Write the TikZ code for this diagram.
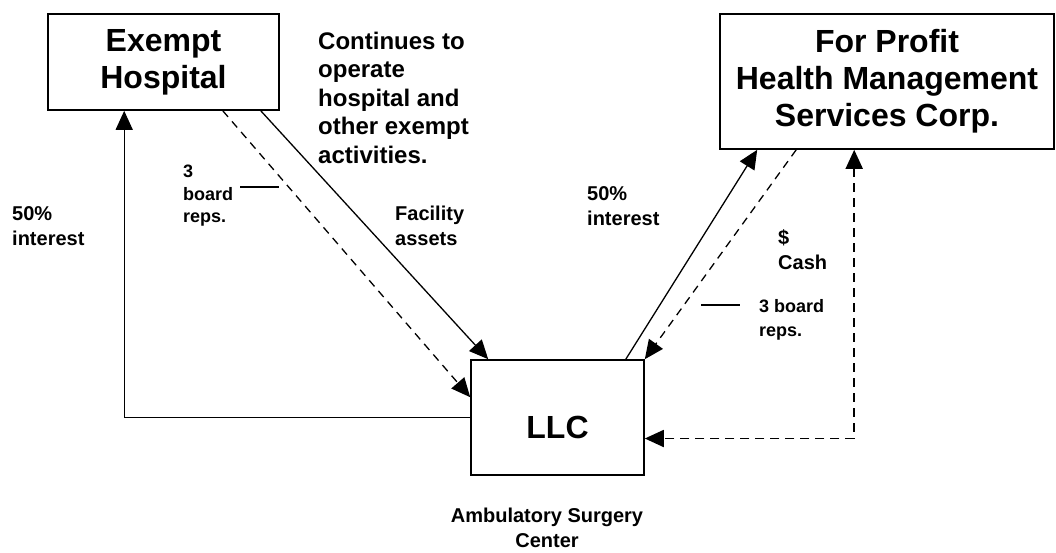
\documentclass[tikz,border=0pt]{standalone}
\usepackage{fontspec}
\setmainfont{Liberation Sans}
\usetikzlibrary{arrows.meta,positioning}
\tikzset{>={Triangle[length=19pt,width=17pt]}}
\tikzset{
  entity/.style={draw,line width=1.6pt,inner sep=0pt,align=center,
    font=\bfseries\fontsize{32}{37}\selectfont},
  note/.style={inner sep=0pt,align=left,anchor=west,
    font=\bfseries\fontsize{20}{25}\selectfont},
  small/.style={note,font=\bfseries\fontsize{18}{24}\selectfont},
  flow/.style={line width=1.3pt},
  flowdash/.style={line width=1.3pt,dash pattern=on 8pt off 6pt},
  cashdash/.style={line width=1.8pt,dash pattern=on 9pt off 6pt}
}

\begin{document}
\begin{tikzpicture}[x=1pt,y=-1pt]
        \useasboundingbox (0,0) rectangle (1056,552);
        % the three parties
        \node[entity,minimum width=231pt,minimum height=96pt] (hosp) at (163.5,62) {Exempt\\Hospital};
        \node[entity,minimum width=334pt,minimum height=135pt] (corp) at (887,81.5) {For Profit\\Health Management\\Services Corp.};
        \node[entity,minimum width=173pt,minimum height=115pt,text height=43pt] (llc) at (557.5,417.5) {LLC};
        % flows
        \draw[flow,->] (llc.west) -| ([xshift=77pt]hosp.south west);
        \draw[flow,->] ([xshift=-19pt]hosp.south east) -- ([xshift=18pt]llc.north west);
        \draw[flowdash,->] ([xshift=-57pt]hosp.south east) -- ([yshift=-38pt]llc.north west);
        \draw[flow,->] ([xshift=-19pt]llc.north east) -- ([xshift=38pt]corp.south west);
        \draw[flowdash,->] ([xshift=77pt]corp.south west) -- (llc.north east);
        \draw[cashdash,<->] ([xshift=135pt]corp.south west) |- ([yshift=-21pt]llc.east);
        \draw[flow] (240,187) -- (279,187);
        \draw[flow] (701,305) -- (740,305);
        % labels
        \node[note] (share1) at (12,226) {50\%\\interest};
        \node[small,font=\bfseries\fontsize{18}{22.5}\selectfont] (reps1) at (183,196) {3\\board\\reps.};
        \node[note] (assets) at (395,226) {Facility\\assets};
        \node[note,font=\bfseries\fontsize{24}{28.5}\selectfont] (cont) at (318,97.5) {Continues to\\operate\\hospital and\\other exempt\\activities.};
        \node[note] (share2) at (587,206) {50\%\\interest};
        \node[note] (cash) at (778,250) {\$\\Cash};
        \node[small] (reps2) at (759,320) {3 board\\reps.};
        \node[note,anchor=center,align=center] (asc) at (547,528) {Ambulatory Surgery\\Center};
\end{tikzpicture}
\end{document}
